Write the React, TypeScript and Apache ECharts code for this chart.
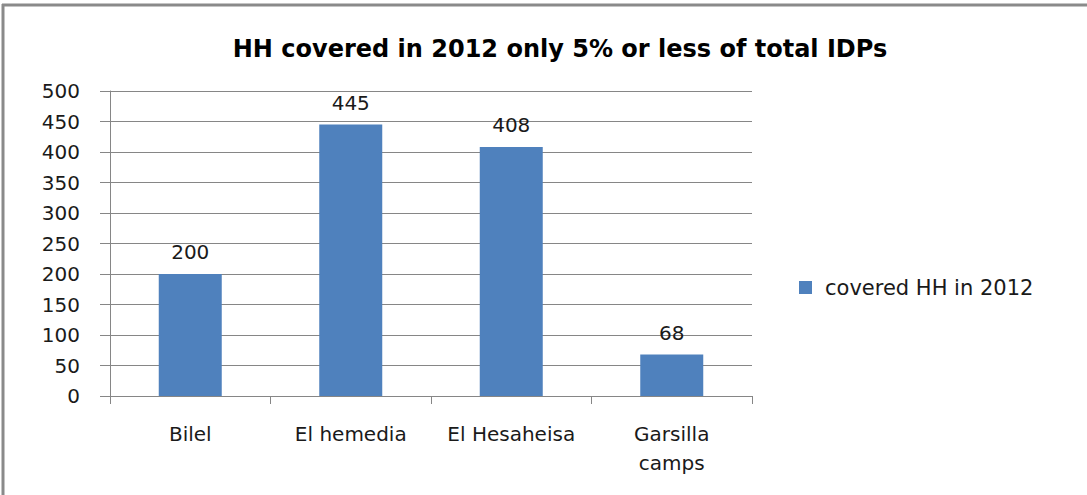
import React, { useEffect, useRef } from "react";
import * as echarts from "echarts";

const categories = ["Bilel", "El hemedia", "El Hesaheisa", "Garsilla\ncamps"];
const seriesName = "covered HH in 2012";
const values = [200, 445, 408, 68];
const titleText = "HH covered in 2012 only 5% or less of total IDPs";
const yMin = 0;
const yMax = 500;
const yStep = 50;

const FONT = "DejaVu Sans";

export default function App() {
  const ref = useRef<HTMLDivElement>(null);
  useEffect(() => {
    if (!ref.current) return;
    const chart = echarts.init(ref.current, undefined, { renderer: "svg" });
    chart.setOption({
      animation: false,
      backgroundColor: "#ffffff",
      title: {
        text: titleText,
        left: 555,
        textAlign: "center",
        top: 32,
        textStyle: { fontFamily: FONT, fontWeight: "bold", fontSize: 24, color: "#000" },
      },
      legend: {
        data: [seriesName],
        orient: "vertical",
        left: 794,
        top: 272,
        itemWidth: 13,
        itemHeight: 13,
        itemGap: 10,
        icon: "rect",
        textStyle: { fontFamily: FONT, fontSize: 21, color: "#1a1a1a", padding: [0, 0, 0, 8] },
      },
      grid: { left: 110, right: 335, top: 91, bottom: 99, containLabel: false },
      xAxis: {
        type: "category",
        data: categories,
        boundaryGap: true,
        axisLine: { lineStyle: { color: "#868686", width: 1 } },
        axisTick: { show: true, length: 8, lineStyle: { color: "#868686" } },
        axisLabel: {
          fontFamily: FONT,
          fontSize: 20,
          color: "#1a1a1a",
          margin: 23,
          lineHeight: 29,
          interval: 0,
        },
      },
      yAxis: {
        type: "value",
        min: yMin,
        max: yMax,
        interval: yStep,
        axisLine: { show: true, lineStyle: { color: "#868686", width: 1 } },
        axisTick: { show: true, length: 10, lineStyle: { color: "#868686" } },
        splitLine: { show: true, lineStyle: { color: "#868686", width: 1 } },
        axisLabel: { fontFamily: FONT, fontSize: 20, color: "#1a1a1a", margin: 30 },
      },
      series: [
        {
          name: seriesName,
          type: "bar",
          data: values,
          barWidth: 63,
          itemStyle: { color: "#4F81BD" },
          label: {
            show: true,
            position: "top",
            distance: 12,
            fontFamily: FONT,
            fontSize: 20,
            color: "#1a1a1a",
          },
        },
      ],
      graphic: [
        {
          type: "line",
          shape: { x1: 2, y1: 5, x2: 1087, y2: 5 },
          style: { stroke: "#8a8a8a", lineWidth: 3 },
        },
        {
          type: "line",
          shape: { x1: 3, y1: 4, x2: 3, y2: 495 },
          style: { stroke: "#8a8a8a", lineWidth: 3 },
        },
      ],
    });
    return () => chart.dispose();
  }, []);
  return (
    <div
      ref={ref}
      style={{ position: "fixed", left: 0, top: 0, width: 1087, height: 495 }}
    />
  );
}
